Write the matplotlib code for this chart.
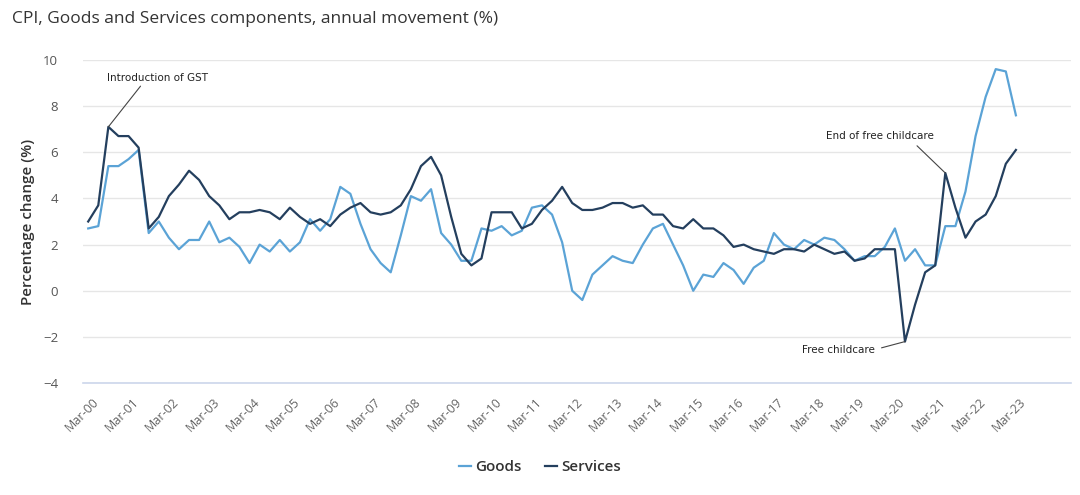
import matplotlib
matplotlib.use("Agg")
import matplotlib.pyplot as plt
from matplotlib.transforms import ScaledTranslation

plt.rcParams['font.family'] = ['Open Sans', 'DejaVu Sans']

# quarterly, Mar-00 .. Mar-23
goods = [2.7, 2.8, 5.4, 5.4, 5.7, 6.1, 2.5, 3.0, 2.3, 1.8, 2.2, 2.2, 3.0, 2.1, 2.3, 1.9,
         1.2, 2.0, 1.7, 2.2, 1.7, 2.1, 3.1, 2.6, 3.1, 4.5, 4.2, 2.9, 1.8, 1.2, 0.8, 2.4,
         4.1, 3.9, 4.4, 2.5, 2.0, 1.3, 1.3, 2.7, 2.6, 2.8, 2.4, 2.6, 3.6, 3.7, 3.3, 2.1,
         0.0, -0.4, 0.7, 1.1, 1.5, 1.3, 1.2, 2.0, 2.7, 2.9, 2.0, 1.1, 0.0, 0.7, 0.6, 1.2,
         0.9, 0.3, 1.0, 1.3, 2.5, 2.0, 1.8, 2.2, 2.0, 2.3, 2.2, 1.8, 1.3, 1.5, 1.5, 1.9,
         2.7, 1.3, 1.8, 1.1, 1.1, 2.8, 2.8, 4.3, 6.7, 8.4, 9.6, 9.5, 7.6]
services = [3.0, 3.7, 7.1, 6.7, 6.7, 6.2, 2.7, 3.2, 4.1, 4.6, 5.2, 4.8, 4.1, 3.7, 3.1, 3.4,
            3.4, 3.5, 3.4, 3.1, 3.6, 3.2, 2.9, 3.1, 2.8, 3.3, 3.6, 3.8, 3.4, 3.3, 3.4, 3.7,
            4.4, 5.4, 5.8, 5.0, 3.2, 1.6, 1.1, 1.4, 3.4, 3.4, 3.4, 2.7, 2.9, 3.5, 3.9, 4.5,
            3.8, 3.5, 3.5, 3.6, 3.8, 3.8, 3.6, 3.7, 3.3, 3.3, 2.8, 2.7, 3.1, 2.7, 2.7, 2.4,
            1.9, 2.0, 1.8, 1.7, 1.6, 1.8, 1.8, 1.7, 2.0, 1.8, 1.6, 1.7, 1.3, 1.4, 1.8, 1.8,
            1.8, -2.2, -0.6, 0.8, 1.1, 5.1, 3.6, 2.3, 3.0, 3.3, 4.1, 5.5, 6.1]
years = ["00", "01", "02", "03", "04", "05", "06", "07", "08", "09", "10", "11",
         "12", "13", "14", "15", "16", "17", "18", "19", "20", "21", "22", "23"]
tick_labels = ["Mar-" + y for y in years]

c_goods = "#5ba3d6"
c_serv = "#243f5e"

fig = plt.figure(figsize=(10.8, 4.95), dpi=100)
ax = fig.add_axes([0.077, 0.226, 0.915, 0.653])

x = list(range(len(goods)))
ax.plot(x, goods, color=c_goods, lw=1.6, label="Goods")
ax.plot(x, services, color=c_serv, lw=1.6, label="Services")

ax.set_xlim(-0.5, 97.5)
ax.set_ylim(-4, 10)
ax.set_yticks(range(-4, 11, 2))
ax.set_yticklabels([str(v).replace("-", "\u2212") for v in range(-4, 11, 2)])
ax.set_xticks(range(0, len(goods), 4))
ax.set_xticklabels(tick_labels, rotation=45, ha="right", rotation_mode="anchor")
ax.tick_params(axis="x", length=0, pad=9, labelsize=9, labelcolor="#666666")
ax.tick_params(axis="y", length=0, pad=18, labelsize=9.5, labelcolor="#555555")
shift = ScaledTranslation(0.035, 0, fig.dpi_scale_trans)
for lab in ax.get_xticklabels():
    lab.set_transform(lab.get_transform() + shift)
ax.grid(axis="y", color="#e6e6e6", lw=1)
ax.set_axisbelow(True)
for s in ["top", "right", "left"]:
    ax.spines[s].set_visible(False)
ax.spines["bottom"].set_color("#ccd6eb")
ax.spines["bottom"].set_linewidth(1.2)

ax.set_ylabel("Percentage change (%)", fontsize=11, color="#333333", fontweight="semibold", labelpad=6)

fig.text(0.011, 0.962, "CPI, Goods and Services components, annual movement (%)",
         fontsize=12.5, color="#333333", va="center")

# annotations
ann = dict(fontsize=7.5, color="#222222", family="DejaVu Sans")
ax.annotate("Introduction of GST", xy=(2, services[2]), xytext=(1.9, 9.2),
            va="center", ha="left", arrowprops=dict(arrowstyle="-", color="#444444", lw=0.8,
                                                      shrinkA=0, shrinkB=0, relpos=(0.35, 0)), **ann)
ax.annotate("End of free childcare", xy=(85, services[85]), xytext=(78.5, 6.7),
            va="center", ha="center", arrowprops=dict(arrowstyle="-", color="#444444", lw=0.8,
                                                        shrinkA=2, shrinkB=0, relpos=(0.8, 0)), **ann)
ax.annotate("Free childcare", xy=(81, services[81]), xytext=(78.0, -2.55),
            va="center", ha="right", arrowprops=dict(arrowstyle="-", color="#444444", lw=0.8,
                                                       shrinkA=3, shrinkB=0, relpos=(1, 0.5)), **ann)

leg = fig.legend(loc="center", bbox_to_anchor=(0.5, 0.056), ncol=2, frameon=False,
                 fontsize=11, handlelength=0.8, handletextpad=0.3, columnspacing=1.5)
for t in leg.get_texts():
    t.set_color("#333333")
    t.set_fontweight("semibold")

fig.savefig("out.png", dpi=100)
